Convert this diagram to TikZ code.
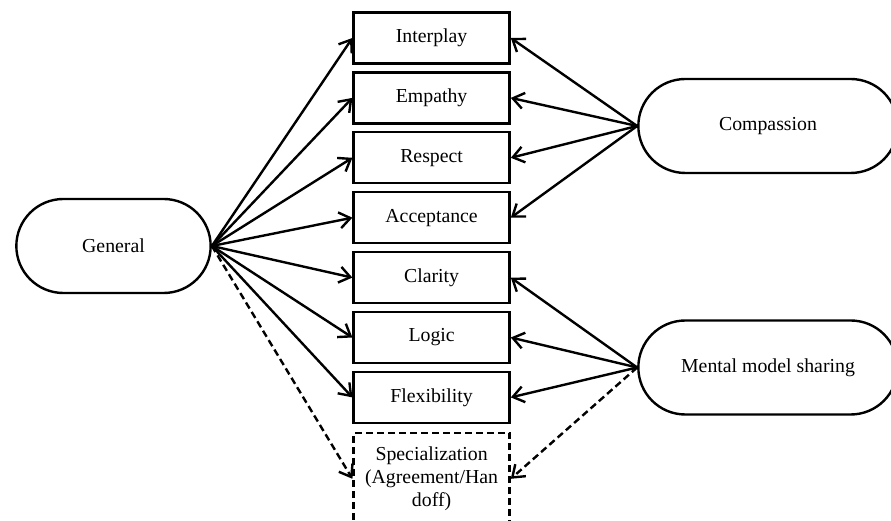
\documentclass[tikz,border=0pt]{standalone}
\usepackage{fontspec}
\setmainfont{Liberation Serif}
\usepackage{tikz}
\usetikzlibrary{shapes.misc, arrows.meta, positioning}

\begin{document}
\begin{tikzpicture}[
    x=1pt, y=1pt,
    line width=2.4pt,
    item/.style={
        rectangle,
        draw,
        minimum width=156pt,
        minimum height=51pt,
        align=center,
        font=\fontsize{19.8}{23}\selectfont
    },
    group/.style={
        rounded rectangle,
        draw,
        minimum height=94pt,
        align=center,
        font=\fontsize{19.8}{23}\selectfont
    },
    arrow/.style={-{Straight Barb[length=11pt,width=16pt]}},
    maybe/.style={dash pattern=on 7pt off 4pt}
]
    \useasboundingbox (0,0) rectangle (891,521);

    % Column of items
    \node [item] (interplay) at (431.6,483) {Interplay};
    \node [item, below=6.5pt of interplay] (empathy) {Empathy};
    \node [item, below=6.5pt of empathy] (respect) {Respect};
    \node [item, below=6.5pt of respect] (acceptance) {Acceptance};
    \node [item, below=6.5pt of acceptance] (clarity) {Clarity};
    \node [item, below=6.5pt of clarity] (logic) {Logic};
    \node [item, below=6.5pt of logic] (flexibility) {Flexibility};
    \node [item, maybe, minimum height=92pt, below=7.5pt of flexibility] (special) {Specialization\\(Agreement/Han\\doff)};

    % Groups
    \node [group, minimum width=201pt] (general) at (113.5,275) {General};
    \node [group, minimum width=266pt] (compassion) at (768,395) {Compassion};
    \node [group, minimum width=266pt] (mental) at (768,153.5) {Mental model sharing};

    % General to all items
    \foreach \k in {interplay, empathy, respect, acceptance, clarity, logic, flexibility}
        \draw [arrow] (general.east) -- (\k.west);
    \draw [arrow, maybe] (general.east) -- (special.west);

    % Compassion
    \foreach \k in {interplay, empathy, respect, acceptance}
        \draw [arrow] (compassion.west) -- (\k.east);

    % Mental model sharing
    \foreach \k in {clarity, logic, flexibility}
        \draw [arrow] (mental.west) -- (\k.east);
    \draw [arrow, maybe] (mental.west) -- (special.east);

\end{tikzpicture}
\end{document}
